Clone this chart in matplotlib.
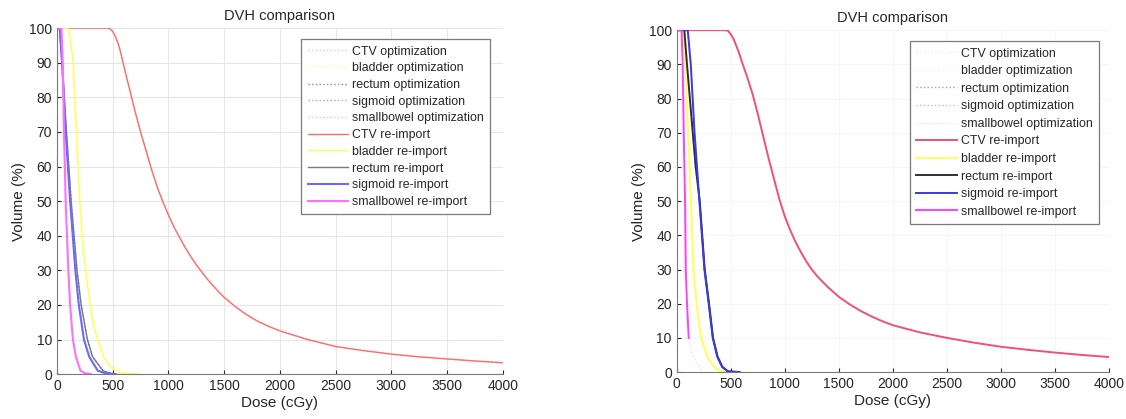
import matplotlib.pyplot as plt

plt.rcParams["font.family"] = ["Liberation Sans", "DejaVu Sans"]

labels = ["CTV optimization", "bladder optimization", "rectum optimization",
          "sigmoid optimization", "smallbowel optimization",
          "CTV re-import", "bladder re-import", "rectum re-import",
          "sigmoid re-import", "smallbowel re-import"]

# ---- left plan (dose cGy, volume %) ----
ctv_l_dose = [0, 450, 475, 500, 525, 550, 575, 600, 650, 700, 750, 800, 850, 900, 950, 1000,
              1050, 1100, 1150, 1200, 1250, 1300, 1350, 1400, 1450, 1500, 1600, 1700, 1800,
              1900, 2000, 2250, 2500, 2750, 3000, 3250, 3500, 3750, 4000]
ctv_l_vol = [100, 100, 99.8, 99, 97.5, 95.5, 92.5, 89, 82.5, 76, 70, 64.5, 59, 54, 49.8, 46,
             42.5, 39.5, 36.6, 34, 31.6, 29.5, 27.4, 25.6, 23.8, 22.2, 19.5, 17.2, 15.3,
             13.8, 12.5, 10, 8, 6.8, 5.8, 5, 4.4, 3.8, 3.3]
bladder_l_dose = [0, 100, 120, 145, 175, 205, 230, 258, 298, 330, 366, 420, 470, 522, 600, 740]
bladder_l_vol = [100, 100, 97, 90, 70, 50, 38, 30, 20, 14, 10, 5, 2.5, 1.1, 0.2, 0]
rectum_l_dose = [0, 22, 47, 85, 127, 180, 217, 273, 320, 413, 470, 537]
rectum_l_vol = [100, 100, 90, 70, 50, 30, 20, 10, 5, 1, 0.3, 0]
sigmoid_l_dose = [0, 25, 45, 78, 118, 165, 196, 242, 290, 366, 430, 522]
sigmoid_l_vol = [100, 100, 90, 70, 50, 30, 20, 10, 5, 1, 0.3, 0]
bowel_l_dose = [0, 40, 52, 63, 78, 102, 118, 143, 170, 211, 250, 304]
bowel_l_vol = [100, 100, 90, 70, 50, 30, 20, 10, 5, 1, 0.3, 0]

# ---- right plan ----
ctv_r_dose = [0, 450, 475, 500, 525, 550, 575, 600, 650, 700, 750, 800, 850, 900, 950, 1000,
              1050, 1100, 1150, 1200, 1250, 1300, 1400, 1500, 1600, 1700, 1800, 1900, 2000,
              2250, 2500, 2750, 3000, 3250, 3500, 3750, 4000]
ctv_r_vol = [100, 100, 99.8, 98.8, 97.5, 95.5, 93.5, 91, 86.5, 81.5, 75.5, 69, 62.5, 56.5,
             50.5, 45.5, 41.5, 38, 35, 32.3, 30, 28, 24.8, 22, 19.8, 17.9, 16.3, 14.9, 13.7,
             11.6, 10, 8.6, 7.4, 6.5, 5.7, 5, 4.4]
bladder_r_dose = [0, 62, 80, 105, 130, 154, 185, 225, 290, 360, 441]
bladder_r_vol = [100, 100, 90, 70, 52, 30, 20, 10, 4, 1, 0]
rectum_r_dose = [0, 70, 95, 135, 175, 213, 259, 299, 336, 378, 423, 474, 580]
rectum_r_vol = [100, 100, 90, 75, 60, 50, 30, 20, 10, 4.5, 1.5, 0.2, 0]
sigmoid_r_dose = [0, 102, 130, 165, 210, 256, 296, 333, 375, 420, 471, 580]
sigmoid_r_vol = [100, 100, 90, 70, 50, 30, 20, 10, 4.5, 1.5, 0.2, 0]
bowel_r_dose = [0, 45, 55, 65, 77, 84, 95, 111]
bowel_r_vol = [100, 100, 90, 70, 50, 30, 20, 10]
bowel_opt_r_dose = [0, 45, 55, 65, 77, 84, 95, 111, 140, 180, 240]
bowel_opt_r_vol = [100, 100, 90, 70, 50, 30, 20, 10, 6, 3, 0]

left_curves = [
    (ctv_l_dose, ctv_l_vol), (bladder_l_dose, bladder_l_vol), (rectum_l_dose, rectum_l_vol),
    (sigmoid_l_dose, sigmoid_l_vol), (bowel_l_dose, bowel_l_vol),
]
right_opt = [
    (ctv_r_dose, ctv_r_vol), (bladder_r_dose, bladder_r_vol), (rectum_r_dose, rectum_r_vol),
    (sigmoid_r_dose, sigmoid_r_vol), (bowel_opt_r_dose, bowel_opt_r_vol),
]
right_re = [
    (ctv_r_dose, ctv_r_vol), (bladder_r_dose, bladder_r_vol), (rectum_r_dose, rectum_r_vol),
    (sigmoid_r_dose, sigmoid_r_vol), (bowel_r_dose, bowel_r_vol),
]

left_opt_colors = ["#ffb8b8", "#ffffa0", "#8a8a8a", "#a0a0ff", "#ffb0ff"]
left_re_colors = ["#ff6a6a", "#ffff50", "#7a7a7a", "#6a6aff", "#ff70ff"]
left_re_widths = [1.0, 1.0, 1.0, 1.5, 1.5]
right_opt_colors = ["#e6efe6", "#f2f5e0", "#a0a0b8", "#c4b4ee", "#ffd8f0"]
right_re_colors = ["#f0507a", "#ffff55", "#303030", "#3a3ae0", "#ff40ff"]

text_col = "#262626"


def style_axes(ax, grid_col):
    ax.set_xlim(0, 4000)
    ax.set_ylim(0, 100)
    ax.set_xticks(range(0, 4001, 500))
    ax.set_yticks(range(0, 101, 10))
    ax.grid(True, color=grid_col, lw=0.8)
    ax.set_axisbelow(True)
    for s in ["top", "right"]:
        ax.spines[s].set_visible(False)
    for s in ["left", "bottom"]:
        ax.spines[s].set_color("#7a7a7a")
    ax.tick_params(direction="in", length=3, labelsize=10, colors=text_col)
    ax.set_title("DVH comparison", fontsize=10.5, color=text_col, pad=6)
    ax.set_xlabel("Dose (cGy)", fontsize=11, color=text_col, labelpad=2)
    ax.set_ylabel("Volume (%)", fontsize=11, color=text_col, labelpad=2)


fig = plt.figure(figsize=(11.26, 4.19), dpi=100)
ax1 = fig.add_axes([0.0506, 0.107, 0.396, 0.826])
ax2 = fig.add_axes([0.601, 0.112, 0.384, 0.816])

for (d, v), c in zip(left_curves, left_opt_colors):
    ax1.plot(d, v, ls=":", color=c, lw=1.0)
for (d, v), c, w in zip(left_curves, left_re_colors, left_re_widths):
    ax1.plot(d, v, ls="-", color=c, lw=w)

for (d, v), c in zip(right_opt, right_opt_colors):
    ax2.plot(d, v, ls=":", color=c, lw=1.0)
for (d, v), c in zip(right_re, right_re_colors):
    ax2.plot(d, v, ls="-", color=c, lw=1.4)

style_axes(ax1, "#e6e6e6")
style_axes(ax2, "#f6f6f6")

for ax, anchor, sp in [(ax1, (0.985, 0.985), 0.38), (ax2, (0.99, 0.985), 0.45)]:
    leg = ax.legend(ax.get_lines(), labels, loc="upper right", bbox_to_anchor=anchor,
                    fontsize=8.9, handlelength=3.3, handletextpad=0.3, labelspacing=sp,
                    borderpad=0.5, fancybox=False, framealpha=1, edgecolor="#7a7a7a")
    leg.get_frame().set_linewidth(0.9)
    for t in leg.get_texts():
        t.set_color(text_col)

fig.savefig("out.png", dpi=100)
